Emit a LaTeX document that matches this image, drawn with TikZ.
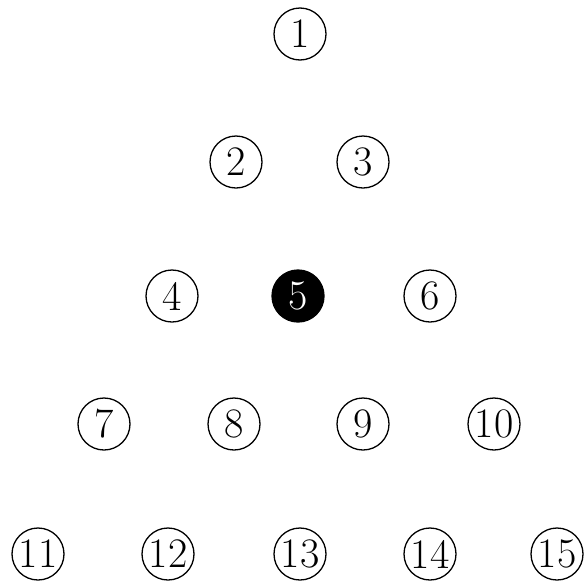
\documentclass[tikz,border=0pt]{standalone}
\begin{document}
\begin{tikzpicture}[x=1pt,y=-1pt,
  peg/.style={circle,draw=black,line width=1.3pt,minimum size=52pt,inner sep=0pt,
    font=\fontsize{42}{42}\selectfont},
  pegfilled/.style={peg,fill=black,text=white}]
\useasboundingbox (0,0) rectangle (586,584);
\node[peg] (n1) at (300,34) {1};
\node[peg] (n2) at (236,162) {2};
\node[peg] (n3) at (363,162) {3};
\node[peg] (n4) at (172,296) {4};
\node[pegfilled] (n5) at (298,296) {5};
\node[peg] (n6) at (430,296) {6};
\node[peg] (n7) at (104,424) {7};
\node[peg] (n8) at (234,424) {8};
\node[peg] (n9) at (363,424) {9};
\node[peg,minimum size=52pt] (n10) at (494,424) {\makebox[0pt]{10}};
\node[peg] (n11) at (38,554) {\makebox[0pt]{11}};
\node[peg] (n12) at (168,554) {\makebox[0pt]{12}};
\node[peg] (n13) at (300,554) {\makebox[0pt]{13}};
\node[peg] (n14) at (430,554) {\makebox[0pt]{14}};
\node[peg] (n15) at (557,554) {\makebox[0pt]{15}};
\end{tikzpicture}
\end{document}
